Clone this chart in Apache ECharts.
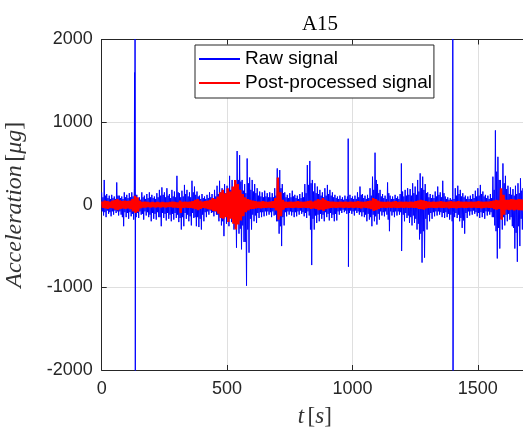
<!DOCTYPE html>
<html><head><meta charset="utf-8">
<script src="https://cdn.jsdelivr.net/npm/echarts@6/dist/echarts.min.js"></script>
<style>html,body{margin:0;padding:0;background:#fff}#c{width:523px;height:432px}</style>
</head><body><div id="c"></div>
<script>
// Time step of the envelope arrays (s). Each 10 s column i gives, in order:
// upper peak (t), inner low (t+2.5), inner high (t+5), lower peak (t+7.5)
const STEP = 10;
// Raw signal: outer upper / lower excursions per 10 s column (µg)
const rawHi = [150,300,130,110,120,100,270,110,100,150, 120,140,150,200,120,90,150,110,130,150,
  120,100,140,180,210,150,200,130,180,160, 350,140,170,240,180,150,290,220,160,110,
  130,100,120,150,130,180,230,290,200,250, 230,350,300,260,650,600,300,250,560,330,
  300,250,200,160,150,170,140,150,140,200, 440,420,250,150,120,140,170,120,110,130,
  150,250,480,530,300,260,220,180,150,200, 240,180,150,120,100,110,90,110,100,120,
  100,110,150,220,130,110,120,200,340,630, 250,180,130,110,270,110,100,120,100,130,
  160,180,200,190,260,220,300,380,340,250, 150,130,120,160,220,150,290,100,90,80,
  100,200,230,180,140,110,100,110,130,170, 200,240,160,120,110,130,340,900,580,300,
  500,350,230,210,190,230,260,320,200,150];
const rawLo = [-130,-150,-110,-140,-120,-100,-130,-120,-260,-150, -170,-140,-180,-150,-160,-120,-180,-130,-150,-200,
  -170,-180,-150,-260,-160,-190,-170,-200,-180,-160, -210,-300,-260,-170,-200,-250,-160,-260,-270,-300,
  -200,-150,-120,-100,-140,-120,-200,-250,-380,-230, -260,-210,-300,-520,-350,-540,-450,-980,-580,-300,
  -200,-220,-160,-150,-140,-130,-120,-150,-130,-200, -350,-500,-250,-140,-120,-130,-150,-140,-120,-110,
  -140,-160,-130,-730,-300,-220,-200,-170,-200,-150, -190,-160,-200,-190,-120,-100,-90,-110,-100,-110,
  -130,-100,-120,-140,-150,-200,-180,-260,-200,-240, -180,-130,-140,-120,-320,-130,-150,-130,-120,-150,
  -200,-160,-220,-250,-220,-300,-420,-700,-640,-300, -200,-170,-140,-130,-120,-150,-160,-150,-180,-200,
  -150,-160,-200,-280,-350,-160,-130,-120,-110,-140, -160,-150,-170,-130,-120,-150,-250,-650,-530,-300,
  -250,-200,-180,-260,-530,-690,-500,-300,-250,-200];
// Raw signal: dense inner band (upper / lower) per 10 s column (µg)
const coreHi = [90,110,80,70,80,70,110,80,70,90, 80,90,100,120,80,60,90,70,80,90,
  80,70,90,110,120,90,110,80,100,90, 150,90,100,130,100,90,150,120,100,70,
  80,70,80,90,80,100,130,150,120,140, 130,180,160,150,300,280,170,140,260,180,
  160,140,110,100,90,100,90,90,90,110, 220,200,140,90,80,90,100,80,70,80,
  90,140,240,260,160,140,130,110,90,110, 130,110,90,80,70,70,60,70,70,80,
  70,70,90,120,80,70,80,110,180,300, 140,100,80,70,140,70,70,80,70,80,
  100,110,120,110,140,120,160,200,180,140, 90,80,80,100,120,90,140,70,60,60,
  70,110,130,100,90,70,70,70,80,100, 110,130,100,80,70,80,180,400,300,170,
  260,190,130,120,110,130,140,170,120,90];
const coreLo = [-80,-90,-70,-90,-80,-70,-80,-80,-150,-90, -100,-90,-110,-90,-100,-80,-110,-80,-90,-120,
  -100,-110,-90,-150,-100,-110,-100,-120,-110,-100, -120,-160,-150,-100,-120,-140,-100,-150,-150,-170,
  -120,-90,-80,-70,-90,-80,-120,-150,-200,-140, -150,-130,-170,-280,-200,-290,-250,-450,-300,-170,
  -120,-130,-100,-90,-90,-80,-80,-90,-80,-120, -200,-260,-150,-90,-80,-80,-90,-90,-80,-70,
  -90,-100,-80,-300,-170,-130,-120,-110,-120,-90, -110,-100,-120,-110,-80,-70,-60,-70,-70,-70,
  -80,-70,-80,-90,-90,-120,-110,-150,-120,-140, -110,-80,-90,-80,-180,-80,-90,-80,-80,-90,
  -120,-100,-130,-150,-130,-170,-230,-350,-320,-170, -120,-100,-90,-80,-80,-90,-100,-90,-110,-120,
  -90,-100,-120,-160,-190,-100,-80,-80,-70,-90, -100,-90,-100,-80,-80,-90,-150,-320,-280,-170,
  -150,-120,-110,-150,-280,-340,-260,-170,-150,-120];
// Isolated single-sample spikes of the raw signal
const spikeT = [131, 133, 134, 983, 984, 1195, 1196, 1400, 1401];
const spikeV = [1600, 2600, -2600, 800, -750, 500, -560, 2600, -2600];
// Post-processed signal envelopes (µg)
const procHi = [40,50,45,40,50,60,70,55,45,50, 45,50,70,110,90,50,35,40,35,30,
  35,30,35,30,35,30,30,35,40,35, 30,50,35,40,35,40,45,60,70,50,
  40,45,50,60,80,70,100,150,180,140, 200,160,220,300,250,180,130,90,70,60,
  50,45,40,40,45,40,35,40,45,80, 330,150,60,40,35,40,35,40,45,40,
  35,40,45,50,40,50,70,60,80,60, 45,40,40,35,35,40,35,40,35,40,
  35,40,45,40,35,40,45,50,80,70, 50,40,35,35,40,35,40,45,35,40,
  35,40,35,40,35,45,50,60,55,45, 40,35,40,35,40,45,40,35,40,45,
  40,40,45,40,35,40,35,40,35,40, 45,40,35,40,40,45,50,60,55,200,
  120,60,60,70,65,60,70,65,60,55];
const procLo = [-40,-45,-50,-40,-45,-60,-65,-50,-45,-50, -45,-55,-80,-100,-85,-45,-35,-35,-30,-35,
  -30,-35,-30,-35,-30,-35,-30,-30,-35,-35, -40,-100,-40,-35,-40,-40,-45,-55,-65,-50,
  -40,-45,-55,-60,-75,-80,-110,-160,-170,-150, -210,-170,-230,-300,-240,-190,-140,-90,-70,-55,
  -50,-45,-40,-45,-40,-40,-35,-40,-40,-70, -180,-140,-60,-40,-35,-40,-40,-35,-40,-40,
  -35,-40,-40,-50,-45,-50,-65,-60,-75,-55, -45,-40,-35,-40,-35,-35,-40,-35,-40,-35,
  -40,-35,-40,-45,-35,-40,-45,-55,-75,-65, -50,-40,-35,-40,-35,-40,-35,-40,-40,-35,
  -40,-35,-40,-35,-40,-40,-50,-55,-60,-45, -40,-35,-40,-40,-35,-40,-40,-35,-45,-40,
  -40,-45,-40,-35,-40,-40,-35,-40,-35,-40, -40,-45,-40,-35,-40,-40,-55,-60,-50,-180,
  -120,-60,-65,-60,-70,-60,-65,-70,-60,-55];
// Axis ticks
const xTicks = [0, 500, 1000, 1500];
const yTicks = [-2000, -1000, 0, 1000, 2000];

function build(cols, st, sv) {
  const pts = [];
  const n = cols[0].length, m = cols.length;
  for (let i = 0; i < n; i++) {
    for (let j = 0; j < m; j++) pts.push([i * STEP + j * STEP / m, cols[j][i]]);
  }
  if (st) for (let k = 0; k < st.length; k++) pts.push([st[k], sv[k]]);
  pts.sort((a, b) => a[0] - b[0]);
  return pts;
}
const rawData = build([rawHi, coreLo, coreHi, rawLo], spikeT, spikeV);
const procData = build([procHi, procLo, procHi, procLo]);

const axisColor = '#262626';
const chart = echarts.init(document.getElementById('c'), null, {renderer: 'canvas'});
chart.setOption({
  animation: false,
  backgroundColor: '#ffffff',
  title: {
    text: 'A15', left: 315, top: 9, textAlign: 'center',
    textStyle: {fontFamily: 'Liberation Serif', fontWeight: 'normal', fontSize: 21, color: '#000'}
  },
  grid: {left: 101.7, right: -5, top: 39.5, bottom: 62, containLabel: false, outerBoundsMode: 'none'},
  legend: {
    orient: 'vertical', left: 195, top: 45,
    padding: [4, 2, 5, 4], itemGap: 4,
    itemWidth: 41, itemHeight: 2, icon: 'rect',
    backgroundColor: '#ffffff', borderColor: axisColor, borderWidth: 1, borderRadius: 0,
    textStyle: {fontFamily: 'Liberation Sans', fontSize: 19, color: '#000', lineHeight: 20},
    data: ['Raw signal', 'Post-processed signal']
  },
  xAxis: [{
    type: 'value', min: 0, max: 1700, interval: 500,
    name: '{i|t} {n|[}{i|s}{n|]}', nameLocation: 'middle', nameGap: 35,
    nameTextStyle: {rich: {
      i: {fontFamily: 'Liberation Serif', fontStyle: 'italic', fontSize: 23, color: '#333'},
      n: {fontFamily: 'Liberation Serif', fontSize: 23, color: '#333'}
    }},
    axisLine: {show: true, onZero: false, lineStyle: {color: axisColor, width: 1}},
    axisTick: {show: true, inside: true, length: 5, lineStyle: {color: axisColor}},
    axisLabel: {margin: 10, fontFamily: 'Liberation Sans', fontSize: 18, color: '#262626',
      showMaxLabel: false, formatter: v => (xTicks.indexOf(v) >= 0 ? String(v) : '')},
    splitLine: {show: true, lineStyle: {color: '#dfdfdf', width: 1}}
  }, {
    type: 'value', min: 0, max: 1700, interval: 500, position: 'top',
    axisLine: {show: true, onZero: false, lineStyle: {color: axisColor, width: 1}},
    axisTick: {show: true, inside: true, length: 5, lineStyle: {color: axisColor}},
    axisLabel: {show: false}, splitLine: {show: false}
  }],
  yAxis: {
    type: 'value', min: -2000, max: 2000, interval: 1000,
    name: '{i|Acceleration} {n|[}{i|μg}{n|]}', nameLocation: 'middle', nameGap: 75, nameRotate: 90,
    nameTextStyle: {rich: {
      i: {fontFamily: 'Liberation Serif', fontStyle: 'italic', fontSize: 24, color: '#333'},
      n: {fontFamily: 'Liberation Serif', fontSize: 24, color: '#333'}
    }},
    axisLine: {show: true, lineStyle: {color: axisColor, width: 1}},
    axisTick: {show: true, inside: true, length: 5, lineStyle: {color: axisColor}},
    axisLabel: {margin: 9, fontFamily: 'Liberation Sans', fontSize: 18, color: '#262626',
      formatter: v => (yTicks.indexOf(v) >= 0 ? String(v) : '')},
    splitLine: {show: true, lineStyle: {color: '#dfdfdf', width: 1}}
  },
  series: [{
    name: 'Raw signal', type: 'line', data: rawData, showSymbol: false, symbol: 'none',
    lineStyle: {color: '#0000ff', width: 1}, itemStyle: {color: '#0000ff'}, clip: true, z: 2
  }, {
    name: 'Post-processed signal', type: 'line', data: procData, showSymbol: false, symbol: 'none',
    lineStyle: {color: '#ff0000', width: 1.2}, itemStyle: {color: '#ff0000'}, clip: true, z: 3
  }]
});
</script></body></html>
